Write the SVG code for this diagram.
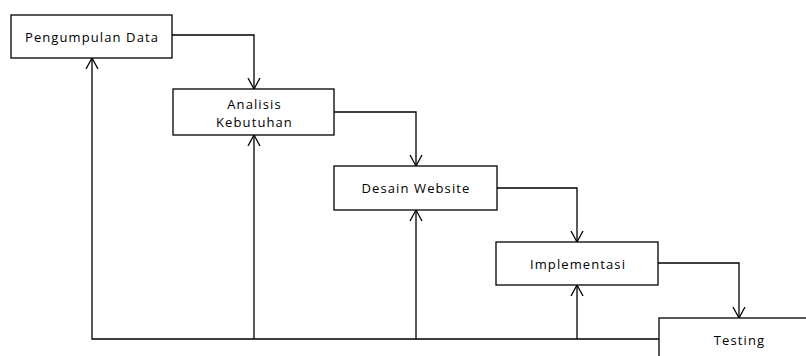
<svg xmlns="http://www.w3.org/2000/svg" width="806" height="356" viewBox="0 0 806 356">
<style>
.box{fill:#fff;stroke:#000;stroke-width:1.3}
.lbl{font-family:"Open Sans","Liberation Sans",sans-serif;font-size:13px;fill:#000;text-anchor:middle;letter-spacing:1.1px}
.con{fill:none;stroke:#000;stroke-width:1.3}
</style>
<defs>
<marker id="arr" viewBox="0 0 12 14" refX="11" refY="7" markerWidth="12" markerHeight="14" markerUnits="userSpaceOnUse" orient="auto">
<path d="M0,1 L11,7 L0,13" fill="none" stroke="#000" stroke-width="1.3"/>
</marker>
</defs>
<g id="connectors">
<path class="con" d="M172,35 H254 V89" marker-end="url(#arr)"/>
<path class="con" d="M334,112 H416 V166" marker-end="url(#arr)"/>
<path class="con" d="M497,188 H577 V242" marker-end="url(#arr)"/>
<path class="con" d="M658,263 H739 V318" marker-end="url(#arr)"/>
<path class="con" d="M659,339 H92 V58" marker-end="url(#arr)"/>
<path class="con" d="M254,339 V135" marker-end="url(#arr)"/>
<path class="con" d="M416,339 V210" marker-end="url(#arr)"/>
<path class="con" d="M577,339 V285" marker-end="url(#arr)"/>
</g>
<g id="pengumpulan">
<rect class="box" x="11" y="15" width="161" height="43"/>
<text class="lbl" x="92" y="41.5">Pengumpulan Data</text>
</g>
<g id="analisis">
<rect class="box" x="173" y="89" width="161" height="46"/>
<text class="lbl" x="254.5" y="108.5">Analisis</text>
<text class="lbl" x="254.5" y="126.5">Kebutuhan</text>
</g>
<g id="desain">
<rect class="box" x="334" y="166" width="163" height="44"/>
<text class="lbl" x="416" y="193">Desain Website</text>
</g>
<g id="implementasi">
<rect class="box" x="496" y="242" width="162" height="43"/>
<text class="lbl" x="578" y="269">Implementasi</text>
</g>
<g id="testing">
<rect class="box" x="659" y="318" width="160" height="44"/>
<text class="lbl" x="739.5" y="345">Testing</text>
</g>
</svg>
